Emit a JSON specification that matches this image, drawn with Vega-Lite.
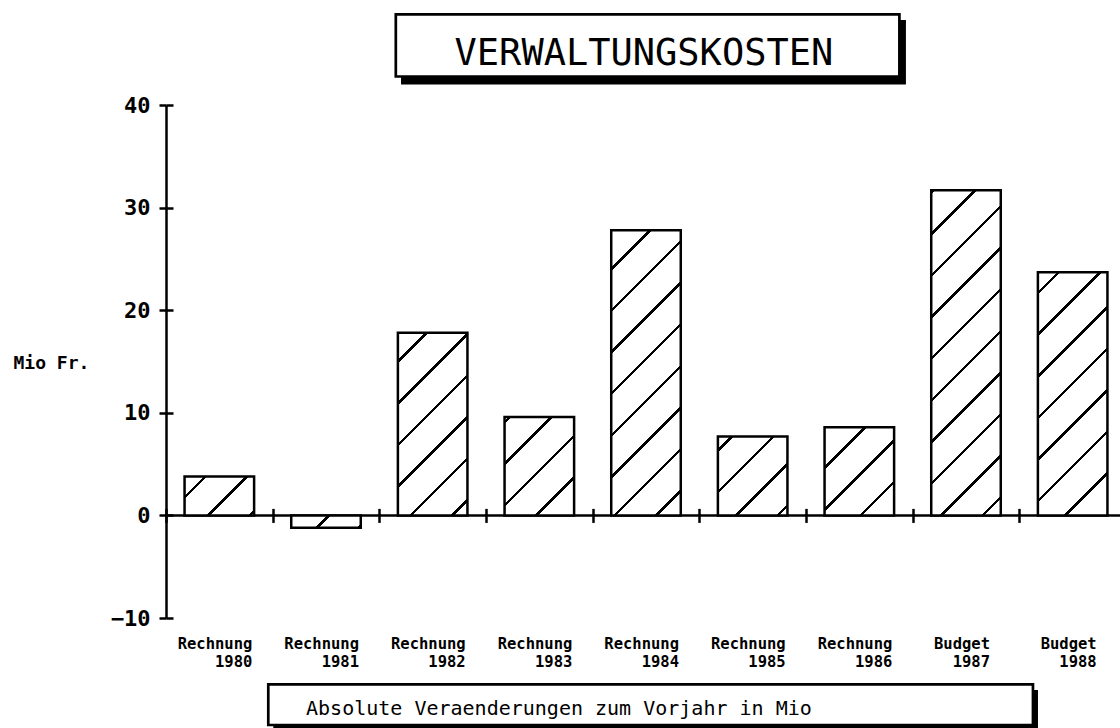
{
  "$schema": "https://vega.github.io/schema/vega-lite/v6.json",
  "width": 954,
  "height": 513,
  "autosize": {"type": "none"},
  "padding": {"left": 166, "top": 105, "right": 0, "bottom": 110},
  "background": "white",
  "config": {"view": {"stroke": null}, "font": "DejaVu Sans Mono"},
  "resolve": {"axis": {"x": "independent", "y": "independent"}},
  "layer": [
    {
      "data": {"values": [{"titel": "VERWALTUNGSKOSTEN"}]},
      "mark": {"type": "rect", "fill": "black"},
      "encoding": {
        "x": {"datum": "Rechnung 1982", "type": "nominal", "bandPosition": 0.045,
          "axis": {"orient": "top", "offset": -417.4, "domain": false, "labels": false, "ticks": true, "tickOffset": -53.33, "tickSize": 14, "tickWidth": 2.5, "tickColor": "black", "title": null, "grid": false}},
        "x2": {"datum": "Rechnung 1986", "bandPosition": 1.17},
        "y": {"datum": 48.28, "type": "quantitative", "axis": null},
        "y2": {"datum": 42.0}
      }
    },
    {
      "data": {"values": [{"titel": "VERWALTUNGSKOSTEN"}]},
      "mark": {"type": "rect", "fill": "white", "stroke": "black", "strokeWidth": 2.7},
      "encoding": {
        "x": {"datum": "Rechnung 1982", "type": "nominal", "bandPosition": -0.03, "axis": null},
        "x2": {"datum": "Rechnung 1986", "bandPosition": 1.076},
        "y": {"datum": 48.84, "type": "quantitative", "axis": null},
        "y2": {"datum": 42.78}
      }
    },
    {
      "data": {"values": [{"titel": "VERWALTUNGSKOSTEN"}]},
      "mark": {"type": "text", "font": "DejaVu Sans Mono", "fontSize": 37, "align": "center", "baseline": "alphabetic", "color": "black"},
      "encoding": {
        "x": {"datum": "Rechnung 1984", "type": "nominal", "bandPosition": 0.47, "axis": null},
        "y": {"datum": 43.85, "type": "quantitative", "axis": null},
        "text": {"field": "titel"}
      }
    },
    {
      "data": {"values": [{"untertitel": "Absolute Veraenderungen zum Vorjahr in Mio"}]},
      "mark": {"type": "rect", "fill": "black"},
      "encoding": {
        "x": {"datum": "Rechnung 1981", "type": "nominal", "bandPosition": -0.258, "axis": null},
        "x2": {"datum": "Budget 1987", "bandPosition": 1.535},
        "y": {"datum": -17.02, "type": "quantitative", "axis": null},
        "y2": {"datum": -21.0}
      }
    },
    {
      "data": {"values": [{"untertitel": "Absolute Veraenderungen zum Vorjahr in Mio"}]},
      "mark": {"type": "rect", "fill": "white", "stroke": "black", "strokeWidth": 2.7},
      "encoding": {
        "x": {"datum": "Rechnung 1981", "type": "nominal", "bandPosition": -0.33, "axis": null},
        "x2": {"datum": "Budget 1987", "bandPosition": 1.463},
        "y": {"datum": -16.46, "type": "quantitative", "axis": null},
        "y2": {"datum": -20.43}
      }
    },
    {
      "data": {"values": [{"untertitel": "Absolute Veraenderungen zum Vorjahr in Mio"}]},
      "mark": {"type": "text", "font": "DejaVu Sans Mono", "fontSize": 20, "align": "left", "baseline": "alphabetic", "color": "black"},
      "encoding": {
        "x": {"datum": "Rechnung 1981", "type": "nominal", "bandPosition": 0.213, "axis": null},
        "y": {"datum": -19.45, "type": "quantitative", "axis": null},
        "text": {"field": "untertitel"}
      }
    },
    {
      "data": {"values": [{"basis": 0}]},
      "mark": {"type": "rule", "color": "black", "strokeWidth": 2.5},
      "encoding": {
        "y": {"field": "basis", "type": "quantitative",
          "axis": {"orient": "right", "offset": -954, "values": [-10, 0, 10, 20, 30, 40], "domain": false, "labels": false, "ticks": true, "tickSize": 7, "tickWidth": 2.5, "tickColor": "black", "title": null, "grid": false}}
      }
    },
    {
      "data": {"values": [
        {"periode": "Rechnung 1980", "wert": 3.8},
        {"periode": "Rechnung 1981", "wert": -1.2},
        {"periode": "Rechnung 1982", "wert": 17.8},
        {"periode": "Rechnung 1983", "wert": 9.6},
        {"periode": "Rechnung 1984", "wert": 27.8},
        {"periode": "Rechnung 1985", "wert": 7.7},
        {"periode": "Rechnung 1986", "wert": 8.6},
        {"periode": "Budget 1987", "wert": 31.7},
        {"periode": "Budget 1988", "wert": 23.7}
      ]},
      "mark": {"type": "bar", "stroke": "black", "strokeWidth": 2.5},
      "encoding": {
        "x": {
          "field": "periode", "type": "nominal",
          "scale": {
            "domain": ["Rechnung 1980", "Rechnung 1981", "Rechnung 1982", "Rechnung 1983", "Rechnung 1984", "Rechnung 1985", "Rechnung 1986", "Budget 1987", "Budget 1988"],
            "range": [0, 960], "paddingInner": 0.348, "paddingOuter": 0.174
          },
          "axis": {
            "orient": "bottom", "domain": false, "ticks": false, "tickSize": 0, "grid": false, "title": null,
            "labelAngle": 0, "labelAlign": "right", "labelBaseline": "alphabetic", "labelPadding": 30,
            "labelLineHeight": 18.4,
            "labelOffset": {"condition": {"test": "indexof(datum.value, 'Budget') === 0", "value": 24}, "value": 33},
            "labelExpr": "split(datum.label, ' ')",
            "labelFont": "DejaVu Sans Mono", "labelFontSize": 15.5, "labelFontWeight": "bold", "labelColor": "black", "labelOverlap": false
          }
        },
        "y": {
          "field": "wert", "type": "quantitative",
          "scale": {"domain": [-10, 40], "nice": false},
          "axis": {
            "orient": "left", "values": [-10, 0, 10, 20, 30, 40], "grid": false,
            "domain": true, "domainColor": "black", "domainWidth": 2.5,
            "ticks": true, "tickSize": 7, "tickWidth": 2.5, "tickColor": "black",
            "labelFont": "DejaVu Sans Mono", "labelFontSize": 22, "labelFontWeight": "bold", "labelColor": "black", "labelPadding": 9,
            "title": "Mio Fr.", "titleAngle": 0, "titleAlign": "left", "titleBaseline": "alphabetic",
            "titleX": -153, "titleY": 263, "titleFont": "DejaVu Sans Mono", "titleFontSize": 18, "titleFontWeight": "bold", "titleColor": "black"
          }
        },
        "fill": {
          "condition": [
            {"test": "datum.periode === 'Rechnung 1980'", "value": {"gradient": "linear", "x1": 0, "y1": 0, "x2": 1.1874, "y2": 0.6657, "stops": [
              {"offset": 0, "color": "white"},
              {"offset": 0.1774, "color": "white"}, {"offset": 0.1774, "color": "black"}, {"offset": 0.2096, "color": "black"}, {"offset": 0.2096, "color": "white"},
              {"offset": 0.5606, "color": "white"}, {"offset": 0.5606, "color": "black"}, {"offset": 0.5929, "color": "black"}, {"offset": 0.5929, "color": "white"},
              {"offset": 0.9439, "color": "white"}, {"offset": 0.9439, "color": "black"}, {"offset": 0.9761, "color": "black"}, {"offset": 0.9761, "color": "white"},
              {"offset": 1, "color": "white"}]}},
            {"test": "datum.periode === 'Rechnung 1981'", "value": {"gradient": "linear", "x1": 0, "y1": 0, "x2": 1.1413, "y2": 0.2020, "stops": [
              {"offset": 0, "color": "white"},
              {"offset": 0.4428, "color": "white"}, {"offset": 0.4428, "color": "black"}, {"offset": 0.4856, "color": "black"}, {"offset": 0.4856, "color": "white"},
              {"offset": 0.9510, "color": "white"}, {"offset": 0.9510, "color": "black"}, {"offset": 0.9938, "color": "black"}, {"offset": 0.9938, "color": "white"},
              {"offset": 1, "color": "white"}]}},
            {"test": "datum.periode === 'Rechnung 1982'", "value": {"gradient": "linear", "x1": 0, "y1": 0, "x2": 0.4593, "y2": 1.2060, "stops": [
              {"offset": 0, "color": "white"},
              {"offset": 0.1081, "color": "white"}, {"offset": 0.1081, "color": "black"}, {"offset": 0.1219, "color": "black"}, {"offset": 0.1219, "color": "white"},
              {"offset": 0.2730, "color": "white"}, {"offset": 0.2730, "color": "black"}, {"offset": 0.2869, "color": "black"}, {"offset": 0.2869, "color": "white"},
              {"offset": 0.4380, "color": "white"}, {"offset": 0.4380, "color": "black"}, {"offset": 0.4519, "color": "black"}, {"offset": 0.4519, "color": "white"},
              {"offset": 0.6029, "color": "white"}, {"offset": 0.6029, "color": "black"}, {"offset": 0.6168, "color": "black"}, {"offset": 0.6168, "color": "white"},
              {"offset": 0.7679, "color": "white"}, {"offset": 0.7679, "color": "black"}, {"offset": 0.7818, "color": "black"}, {"offset": 0.7818, "color": "white"},
              {"offset": 0.9329, "color": "white"}, {"offset": 0.9329, "color": "black"}, {"offset": 0.9467, "color": "black"}, {"offset": 0.9467, "color": "white"},
              {"offset": 1, "color": "white"}]}},
            {"test": "datum.periode === 'Rechnung 1983'", "value": {"gradient": "linear", "x1": 0, "y1": 0, "x2": 0.8039, "y2": 1.1385, "stops": [
              {"offset": 0, "color": "white"},
              {"offset": 0.0217, "color": "white"}, {"offset": 0.0217, "color": "black"}, {"offset": 0.0425, "color": "black"}, {"offset": 0.0425, "color": "white"},
              {"offset": 0.2693, "color": "white"}, {"offset": 0.2693, "color": "black"}, {"offset": 0.2901, "color": "black"}, {"offset": 0.2901, "color": "white"},
              {"offset": 0.5168, "color": "white"}, {"offset": 0.5168, "color": "black"}, {"offset": 0.5376, "color": "black"}, {"offset": 0.5376, "color": "white"},
              {"offset": 0.7644, "color": "white"}, {"offset": 0.7644, "color": "black"}, {"offset": 0.7852, "color": "black"}, {"offset": 0.7852, "color": "white"},
              {"offset": 1, "color": "white"}]}},
            {"test": "datum.periode === 'Rechnung 1984'", "value": {"gradient": "linear", "x1": 0, "y1": 0, "x2": 0.2863, "y2": 1.1741, "stops": [
              {"offset": 0, "color": "white"},
              {"offset": 0.1050, "color": "white"}, {"offset": 0.1050, "color": "black"}, {"offset": 0.1149, "color": "black"}, {"offset": 0.1149, "color": "white"},
              {"offset": 0.2222, "color": "white"}, {"offset": 0.2222, "color": "black"}, {"offset": 0.2321, "color": "black"}, {"offset": 0.2321, "color": "white"},
              {"offset": 0.3395, "color": "white"}, {"offset": 0.3395, "color": "black"}, {"offset": 0.3494, "color": "black"}, {"offset": 0.3494, "color": "white"},
              {"offset": 0.4568, "color": "white"}, {"offset": 0.4568, "color": "black"}, {"offset": 0.4666, "color": "black"}, {"offset": 0.4666, "color": "white"},
              {"offset": 0.5740, "color": "white"}, {"offset": 0.5740, "color": "black"}, {"offset": 0.5839, "color": "black"}, {"offset": 0.5839, "color": "white"},
              {"offset": 0.6913, "color": "white"}, {"offset": 0.6913, "color": "black"}, {"offset": 0.7011, "color": "black"}, {"offset": 0.7011, "color": "white"},
              {"offset": 0.8085, "color": "white"}, {"offset": 0.8085, "color": "black"}, {"offset": 0.8184, "color": "black"}, {"offset": 0.8184, "color": "white"},
              {"offset": 0.9258, "color": "white"}, {"offset": 0.9258, "color": "black"}, {"offset": 0.9356, "color": "black"}, {"offset": 0.9356, "color": "white"},
              {"offset": 1, "color": "white"}]}},
            {"test": "datum.periode === 'Rechnung 1985'", "value": {"gradient": "linear", "x1": 0, "y1": 0, "x2": 0.9326, "y2": 1.0593, "stops": [
              {"offset": 0, "color": "white"},
              {"offset": 0.0825, "color": "white"}, {"offset": 0.0825, "color": "black"}, {"offset": 0.1060, "color": "black"}, {"offset": 0.1060, "color": "white"},
              {"offset": 0.3625, "color": "white"}, {"offset": 0.3625, "color": "black"}, {"offset": 0.3861, "color": "black"}, {"offset": 0.3861, "color": "white"},
              {"offset": 0.6425, "color": "white"}, {"offset": 0.6425, "color": "black"}, {"offset": 0.6661, "color": "black"}, {"offset": 0.6661, "color": "white"},
              {"offset": 0.9226, "color": "white"}, {"offset": 0.9226, "color": "black"}, {"offset": 0.9461, "color": "black"}, {"offset": 0.9461, "color": "white"},
              {"offset": 1, "color": "white"}]}},
            {"test": "datum.periode === 'Rechnung 1986'", "value": {"gradient": "linear", "x1": 0, "y1": 0, "x2": 0.8694, "y2": 1.1030, "stops": [
              {"offset": 0, "color": "white"},
              {"offset": 0.2487, "color": "white"}, {"offset": 0.2487, "color": "black"}, {"offset": 0.2709, "color": "black"}, {"offset": 0.2709, "color": "white"},
              {"offset": 0.5124, "color": "white"}, {"offset": 0.5124, "color": "black"}, {"offset": 0.5346, "color": "black"}, {"offset": 0.5346, "color": "white"},
              {"offset": 0.7760, "color": "white"}, {"offset": 0.7760, "color": "black"}, {"offset": 0.7982, "color": "black"}, {"offset": 0.7982, "color": "white"},
              {"offset": 1, "color": "white"}]}},
            {"test": "datum.periode === 'Budget 1987'", "value": {"gradient": "linear", "x1": 0, "y1": 0, "x2": 0.2482, "y2": 1.1607, "stops": [
              {"offset": 0, "color": "white"},
              {"offset": 0.0016, "color": "white"}, {"offset": 0.0016, "color": "black"}, {"offset": 0.0105, "color": "black"}, {"offset": 0.0105, "color": "white"},
              {"offset": 0.1070, "color": "white"}, {"offset": 0.1070, "color": "black"}, {"offset": 0.1159, "color": "black"}, {"offset": 0.1159, "color": "white"},
              {"offset": 0.2124, "color": "white"}, {"offset": 0.2124, "color": "black"}, {"offset": 0.2213, "color": "black"}, {"offset": 0.2213, "color": "white"},
              {"offset": 0.3178, "color": "white"}, {"offset": 0.3178, "color": "black"}, {"offset": 0.3266, "color": "black"}, {"offset": 0.3266, "color": "white"},
              {"offset": 0.4231, "color": "white"}, {"offset": 0.4231, "color": "black"}, {"offset": 0.4320, "color": "black"}, {"offset": 0.4320, "color": "white"},
              {"offset": 0.5285, "color": "white"}, {"offset": 0.5285, "color": "black"}, {"offset": 0.5374, "color": "black"}, {"offset": 0.5374, "color": "white"},
              {"offset": 0.6339, "color": "white"}, {"offset": 0.6339, "color": "black"}, {"offset": 0.6427, "color": "black"}, {"offset": 0.6427, "color": "white"},
              {"offset": 0.7393, "color": "white"}, {"offset": 0.7393, "color": "black"}, {"offset": 0.7481, "color": "black"}, {"offset": 0.7481, "color": "white"},
              {"offset": 0.8446, "color": "white"}, {"offset": 0.8446, "color": "black"}, {"offset": 0.8535, "color": "black"}, {"offset": 0.8535, "color": "white"},
              {"offset": 0.9500, "color": "white"}, {"offset": 0.9500, "color": "black"}, {"offset": 0.9589, "color": "black"}, {"offset": 0.9589, "color": "white"},
              {"offset": 1, "color": "white"}]}},
            {"test": "datum.periode === 'Budget 1988'", "value": {"gradient": "linear", "x1": 0, "y1": 0, "x2": 0.3400, "y2": 1.1888, "stops": [
              {"offset": 0, "color": "white"},
              {"offset": 0.0616, "color": "white"}, {"offset": 0.0616, "color": "black"}, {"offset": 0.0728, "color": "black"}, {"offset": 0.0728, "color": "white"},
              {"offset": 0.1946, "color": "white"}, {"offset": 0.1946, "color": "black"}, {"offset": 0.2058, "color": "black"}, {"offset": 0.2058, "color": "white"},
              {"offset": 0.3276, "color": "white"}, {"offset": 0.3276, "color": "black"}, {"offset": 0.3388, "color": "black"}, {"offset": 0.3388, "color": "white"},
              {"offset": 0.4607, "color": "white"}, {"offset": 0.4607, "color": "black"}, {"offset": 0.4718, "color": "black"}, {"offset": 0.4718, "color": "white"},
              {"offset": 0.5937, "color": "white"}, {"offset": 0.5937, "color": "black"}, {"offset": 0.6049, "color": "black"}, {"offset": 0.6049, "color": "white"},
              {"offset": 0.7267, "color": "white"}, {"offset": 0.7267, "color": "black"}, {"offset": 0.7379, "color": "black"}, {"offset": 0.7379, "color": "white"},
              {"offset": 0.8597, "color": "white"}, {"offset": 0.8597, "color": "black"}, {"offset": 0.8709, "color": "black"}, {"offset": 0.8709, "color": "white"},
              {"offset": 0.9928, "color": "white"}, {"offset": 0.9928, "color": "black"}, {"offset": 1, "color": "black"}]}}
          ],
          "value": "white"
        }
      }
    }
  ]
}
